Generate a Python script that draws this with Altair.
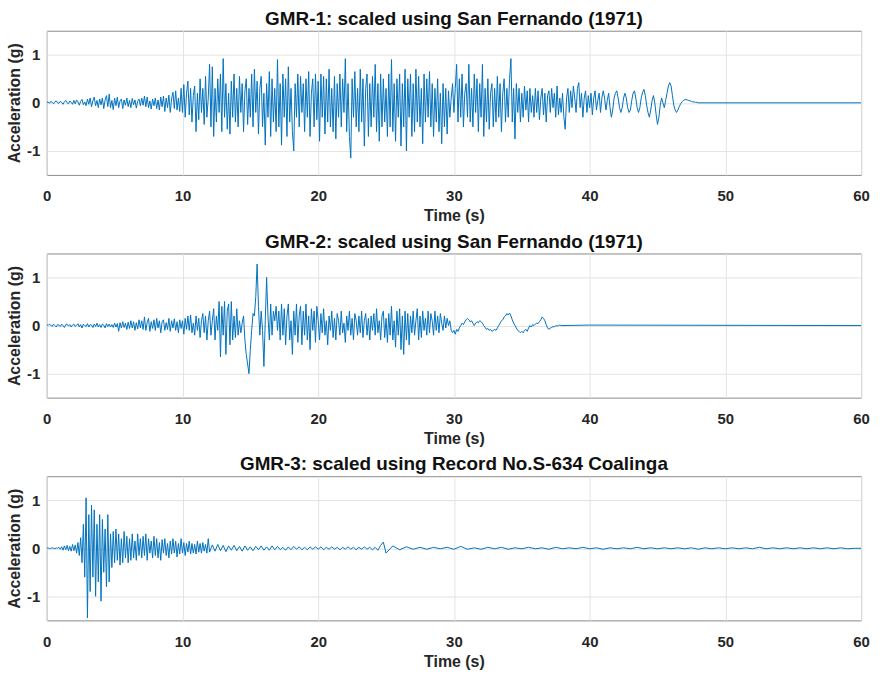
import altair as alt
import pandas as pd

FONT = "Liberation Sans"
LINE_COLOR = "#0072BD"

titles = [
    "GMR-1: scaled using San Fernando (1971)",
    "GMR-2:  scaled using San Fernando (1971)",
    "GMR-3:  scaled using Record No.S-634 Coalinga",
]
x_ticks = [0, 10, 20, 30, 40, 50, 60]
y_ticks = [-1, 0, 1]

# GMR-1: one row per second, samples every 0.1 s, from 0 s
gmr1_rows = [
    [0.0, 0.02, -0.01, 0.03, 0.01, -0.02, 0.02, 0.04, 0.0, -0.01],
    [0.03, 0.01, -0.03, 0.02, 0.05, 0.0, -0.02, 0.04, 0.01, -0.03],
    [0.05, -0.02, 0.06, 0.02, -0.05, 0.03, 0.07, -0.04, 0.02, -0.06],
    [0.08, -0.03, 0.1, -0.08, 0.04, 0.12, -0.06, 0.05, -0.1, 0.08],
    [-0.04, 0.1, -0.12, 0.06, 0.15, -0.08, 0.18, -0.1, 0.05, -0.14],
    [0.1, -0.06, 0.12, -0.1, 0.04, 0.08, -0.12, 0.06, -0.05, 0.1],
    [-0.08, 0.05, -0.1, 0.09, -0.04, 0.06, -0.11, 0.03, 0.08, -0.06],
    [0.1, -0.05, 0.14, -0.08, 0.12, -0.1, 0.04, -0.13, 0.08, -0.06],
    [0.1, -0.12, 0.06, -0.15, 0.12, -0.08, 0.14, -0.18, 0.1, -0.1],
    [0.16, -0.2, 0.08, 0.22, -0.12, 0.25, -0.15, 0.1, -0.18, 0.3],
    [-0.2, 0.38, -0.3, 0.2, 0.45, -0.25, 0.3, -0.4, 0.15, 0.35],
    [-0.6, 0.2, -0.35, 0.5, -0.2, 0.3, -0.45, 0.55, -0.3, 0.1],
    [0.8, -0.5, 0.75, -0.7, 0.3, -0.4, 0.5, -0.2, 0.6, -0.6],
    [0.92, -0.3, 0.4, -0.55, 0.2, -0.65, 0.45, -0.3, 0.6, -0.4],
    [0.3, -0.5, 0.55, -0.2, 0.4, -0.6, 0.25, 0.5, -0.45, 0.3],
    [-0.3, 0.6, -0.5, 0.7, -0.2, 0.45, -0.65, 0.3, 0.55, -0.5],
    [0.2, -0.88, 0.4, -0.3, 0.65, -0.7, 0.5, -0.4, 0.3, -0.6],
    [0.9, -0.5, 0.4, -0.88, 0.6, -0.3, 0.5, -0.7, 0.75, -0.4],
    [0.3, -0.6, -1.0, 0.4, -0.3, 0.6, -0.5, 0.55, -0.2, 0.4],
    [-0.6, 0.5, -0.3, 0.65, -0.7, 0.2, 0.5, -0.5, 0.6, -0.35],
    [0.45, -0.8, 0.6, -0.3, 0.55, -0.65, 0.5, -0.4, 0.7, -0.5],
    [0.3, -0.6, 0.55, -0.75, 0.4, -0.3, 0.6, -0.5, 0.5, -0.2],
    [0.92, -0.6, 0.4, -0.7, -1.15, 0.5, -0.3, 0.65, -0.5, 0.3],
    [-0.6, 0.7, -0.4, 0.5, -0.9, 0.3, 0.6, -0.7, 0.4, -0.5],
    [0.55, -0.3, 0.8, -0.6, 0.4, -0.8, 0.6, -0.5, 0.5, -0.4],
    [0.3, -0.7, 0.6, -0.5, 0.9, -0.6, 0.4, -0.8, 0.5, -0.3],
    [0.6, -0.9, 0.4, -0.5, 0.7, -1.0, 0.5, -0.3, 0.6, -0.7],
    [0.4, -0.6, 0.7, -0.4, 0.55, -0.5, 0.3, -0.85, 0.6, -0.4],
    [0.5, -0.3, 0.65, -0.5, 0.4, -0.7, 0.3, -0.4, 0.5, -0.6],
    [0.2, -0.85, 0.4, -0.5, 0.3, -0.65, 0.25, -0.3, 0.1, 0.4],
    [-0.2, 0.3, 0.8, -0.4, 0.5, -0.3, 0.6, -0.5, 0.2, 0.4],
    [-0.3, 0.8, -0.4, 0.3, -0.5, 0.6, -0.2, 0.5, -0.6, 0.4],
    [-0.3, 0.8, -0.7, 0.3, -0.4, 0.5, -0.55, 0.2, 0.4, -0.5],
    [0.3, -0.4, 0.55, -0.3, 0.4, -0.6, 0.2, 0.5, -0.4, 0.3],
    [-0.3, 0.5, 0.92, -0.4, 0.3, -0.75, 0.4, -0.2, 0.3, -0.4],
    [0.2, -0.3, 0.35, -0.15, 0.25, -0.4, 0.3, -0.2, 0.15, -0.3],
    [0.3, -0.2, 0.25, -0.35, 0.1, 0.3, -0.25, 0.2, -0.4, 0.15],
    [0.25, -0.2, 0.3, -0.1, 0.2, -0.3, 0.35, -0.25, 0.1, -0.2],
    [0.2, -0.3, -0.55, 0.1, 0.3, -0.2, 0.25, -0.1, 0.35, 0.1],
    [-0.2, 0.3, 0.42, -0.1, 0.2, -0.3, 0.1, 0.25, -0.2, 0.15],
    [-0.1, 0.2, -0.25, 0.1, 0.25, -0.15, 0.05, 0.2, -0.2, 0.1],
    [0.25, 0.1, -0.15, 0.05, 0.2, -0.1, -0.3, -0.15, 0.1, 0.2],
    [0.25, 0.1, -0.1, -0.2, -0.1, 0.1, 0.2, 0.1, -0.1, -0.2],
    [-0.15, 0.05, 0.2, 0.25, 0.1, -0.1, -0.2, -0.1, 0.1, 0.22],
    [0.28, 0.15, -0.05, -0.2, -0.3, -0.15, 0.05, 0.15, 0.0, -0.25],
    [-0.45, -0.3, -0.05, 0.1, 0.0, -0.1, 0.05, 0.2, 0.35, 0.42],
    [0.35, 0.15, -0.05, -0.15, -0.2, -0.15, -0.08, -0.02, 0.02, 0.05],
    [0.06, 0.07, 0.06, 0.05, 0.04, 0.03, 0.02, 0.02, 0.01, 0.01],
]
gmr1_tail_t = [48.0, 60.0]
gmr1_tail_a = [0.0, 0.0]

# GMR-2: one row per second, samples every 0.1 s, from 0 s
gmr2_rows = [
    [0.02, 0.0, 0.03, 0.01, -0.02, 0.03, 0.0, -0.03, 0.02, 0.01],
    [-0.02, 0.03, 0.0, -0.04, 0.02, 0.03, -0.01, 0.02, -0.03, 0.01],
    [0.03, -0.02, 0.01, 0.04, -0.03, 0.02, -0.05, 0.03, 0.0, -0.02],
    [0.04, -0.03, 0.02, 0.01, -0.04, 0.03, -0.02, 0.05, -0.03, 0.02],
    [-0.04, 0.03, 0.01, -0.05, 0.04, -0.02, 0.03, -0.03, 0.02, -0.04],
    [0.05, -0.03, 0.04, -0.12, 0.06, -0.05, 0.08, -0.04, 0.05, -0.08],
    [0.07, -0.06, 0.1, -0.05, 0.08, -0.1, 0.06, -0.07, 0.12, -0.05],
    [0.1, -0.08, 0.18, -0.1, 0.06, 0.15, -0.12, 0.08, -0.06, 0.12],
    [-0.1, 0.15, -0.05, 0.1, -0.15, 0.08, 0.12, -0.1, 0.06, -0.08],
    [0.15, -0.12, 0.1, -0.05, 0.14, -0.1, 0.08, -0.15, 0.12, -0.06],
    [0.1, -0.18, 0.15, -0.08, 0.2, -0.1, 0.22, -0.15, 0.05, -0.2],
    [0.2, -0.1, 0.15, -0.25, 0.1, 0.25, -0.15, 0.2, -0.3, 0.1],
    [0.3, -0.2, 0.1, 0.35, -0.3, 0.2, -0.1, 0.5, -0.65, 0.4],
    [-0.2, 0.5, -0.6, 0.3, 0.45, -0.4, 0.5, -0.3, 0.2, -0.25],
    [0.35, -0.2, 0.1, -0.15, 0.05, 0.2, -0.3, -0.6, -0.8, -1.0],
    [-0.5, -0.1, 0.25, 0.2, 0.6, 1.28, 0.4, -0.2, 0.3, -0.1],
    [-0.85, 0.1, 1.0, 0.2, -0.3, 0.45, -0.2, 0.3, 0.1, 0.4],
    [-0.1, 0.3, -0.3, 0.45, -0.2, 0.35, -0.4, 0.2, 0.45, -0.3],
    [0.1, -0.6, 0.3, -0.2, 0.45, -0.35, 0.2, 0.4, -0.4, 0.3],
    [-0.2, 0.45, -0.3, 0.2, -0.5, 0.35, -0.1, 0.3, -0.35, 0.4],
    [0.1, -0.3, 0.25, -0.15, 0.35, -0.2, 0.1, -0.4, 0.2, -0.1],
    [0.3, -0.25, 0.15, -0.3, 0.25, 0.1, -0.2, 0.3, -0.15, 0.05],
    [-0.35, 0.2, -0.1, 0.3, -0.2, 0.15, -0.3, 0.25, 0.1, -0.2],
    [0.2, -0.15, 0.3, -0.25, 0.1, 0.25, -0.2, 0.15, -0.3, 0.2],
    [-0.1, 0.25, -0.2, 0.35, -0.15, 0.1, -0.3, 0.2, 0.3, -0.25],
    [0.15, -0.35, 0.25, -0.2, 0.4, -0.3, 0.1, -0.45, 0.3, -0.2],
    [0.35, -0.5, 0.2, -0.6, 0.3, -0.3, 0.25, -0.4, 0.2, -0.15],
    [0.3, -0.2, 0.1, 0.35, -0.3, 0.2, -0.25, 0.3, -0.1, 0.15],
    [-0.2, 0.3, -0.15, 0.25, 0.1, -0.2, 0.3, -0.1, 0.2, -0.15],
    [0.25, 0.05, -0.1, 0.2, -0.05, 0.15, 0.0, 0.1, -0.1, -0.15],
    [-0.1, -0.18, -0.08, -0.12, -0.05, 0.0, 0.05, 0.02, 0.08, 0.12],
    [0.15, 0.12, 0.08, 0.1, 0.05, 0.0, 0.05, 0.08, 0.06, 0.1],
    [0.08, 0.05, 0.0, -0.04, -0.08, -0.06, -0.1, -0.08, -0.12, -0.1],
    [-0.08, -0.1, -0.05, 0.0, 0.05, 0.1, 0.12, 0.18, 0.2, 0.25],
    [0.22, 0.26, 0.2, 0.12, 0.05, 0.0, -0.05, -0.1, -0.12, -0.15],
    [-0.12, -0.15, -0.1, -0.08, -0.12, -0.05, 0.0, -0.03, 0.02, 0.0],
    [0.03, 0.05, 0.04, 0.08, 0.12, 0.18, 0.15, 0.1, 0.02, -0.05],
    [-0.08, -0.05, -0.04, -0.02, -0.03, 0.0, -0.01, 0.0, 0.01, 0.0],
]
gmr2_tail_t = [40.0, 60.0]
gmr2_tail_a = [0.01, 0.0]

# GMR-3 early part: one row per second, samples every 0.1 s, from 0 s
gmr3_early_rows = [
    [0.0, 0.01, -0.01, 0.0, 0.01, 0.0, -0.01, 0.01, 0.0, 0.02],
    [-0.02, 0.03, -0.04, 0.05, -0.03, 0.06, -0.05, 0.04, -0.06, 0.08],
    [-0.05, 0.07, -0.1, 0.12, -0.15, 0.22, -0.3, 0.5, -0.6, 1.05],
    [-1.45, 0.7, -0.9, 0.9, -0.6, 0.8, -1.0, 0.5, -0.7, 0.7],
    [-1.1, 0.6, -0.5, 0.4, -0.8, 0.7, -0.7, 0.3, -0.4, 0.35],
    [-0.3, 0.4, -0.25, 0.3, -0.35, 0.2, -0.3, 0.35, -0.2, 0.25],
    [-0.3, 0.2, -0.25, 0.3, -0.2, 0.15, -0.25, 0.3, -0.15, 0.2],
    [-0.2, 0.25, -0.15, 0.3, -0.25, 0.2, -0.1, 0.15, -0.2, 0.25],
    [-0.15, 0.2, -0.2, 0.12, -0.25, 0.18, -0.1, 0.2, -0.15, 0.1],
    [-0.2, 0.15, -0.12, 0.2, -0.1, 0.15, -0.18, 0.1, -0.12, 0.2],
    [-0.1, 0.12, -0.15, 0.1, -0.08, 0.15, -0.12, 0.1, -0.1, 0.08],
    [-0.12, 0.15, -0.08, 0.1, -0.1, 0.12, -0.06, 0.08, -0.1, 0.2],
]
# GMR-3 middle part: rows of 2 s, samples every 0.2 s, from 12 s
gmr3_mid_rows = [
    [-0.08, 0.07, -0.06, 0.08, -0.05, 0.06, -0.07, 0.05, -0.04, 0.06],
    [-0.05, 0.04, -0.06, 0.05, -0.04, 0.03, -0.05, 0.04, -0.03, 0.05],
    [-0.04, 0.03, -0.04, 0.05, -0.03, 0.04, -0.03, 0.02, -0.04, 0.03],
    [-0.03, 0.04, -0.02, 0.03, -0.03, 0.02, -0.03, 0.03, -0.02, 0.03],
    [-0.02, 0.03, -0.03, 0.02, -0.02, 0.03, -0.02, 0.02, -0.03, 0.02],
    [-0.02, 0.03, -0.02, 0.02, -0.03, 0.02, -0.02, 0.03, -0.02, 0.02],
    [-0.03, 0.02, -0.04, 0.06, 0.13, -0.1],
]
# GMR-3 late part: rows of 5 s, samples every 0.5 s, from 25.5 s
gmr3_late_rows = [
    [0.05, -0.03, 0.03, -0.02, 0.02, -0.02, 0.02, -0.01, 0.02, -0.02],
    [0.04, -0.02, 0.01, -0.02, 0.02, -0.01, 0.02, -0.02, 0.01, -0.01],
    [0.02, -0.01, 0.01, -0.02, 0.02, -0.01, 0.01, -0.01, 0.02, -0.01],
    [0.01, -0.02, 0.01, -0.01, 0.01, -0.01, 0.02, -0.01, 0.01, -0.01],
    [0.01, -0.01, 0.01, -0.01, 0.01, -0.02, 0.01, -0.01, 0.01, -0.01],
    [0.01, -0.01, 0.01, -0.01, 0.02, -0.01, 0.01, -0.01, 0.01, -0.01],
    [0.01, -0.01, 0.01, -0.01, 0.01, -0.01, 0.01, -0.01, 0.0, 0.0],
]


def rows_to_points(rows, t0, row_span, dt):
    ts, vs = [], []
    for k, row in enumerate(rows):
        for j, v in enumerate(row):
            ts.append(round(t0 + k * row_span + j * dt, 3))
            vs.append(v)
    return ts, vs


def frame(parts):
    ts, vs = [], []
    for t, v in parts:
        ts += t
        vs += v
    return pd.DataFrame({"t": ts, "a": vs}).sort_values("t")


df1 = frame([rows_to_points(gmr1_rows, 0.0, 1.0, 0.1), (gmr1_tail_t, gmr1_tail_a)])
df2 = frame([rows_to_points(gmr2_rows, 0.0, 1.0, 0.1), (gmr2_tail_t, gmr2_tail_a)])
df3 = frame([
    rows_to_points(gmr3_early_rows, 0.0, 1.0, 0.1),
    rows_to_points(gmr3_mid_rows, 12.0, 2.0, 0.2),
    rows_to_points(gmr3_late_rows, 25.5, 5.0, 0.5),
])


def panel(df, title):
    return (
        alt.Chart(df)
        .mark_line(color=LINE_COLOR, strokeWidth=1, clip=True)
        .encode(
            x=alt.X(
                "t:Q",
                scale=alt.Scale(domain=[0, 60], nice=False, zero=False),
                axis=alt.Axis(values=x_ticks, title="Time (s)"),
            ),
            y=alt.Y(
                "a:Q",
                scale=alt.Scale(domain=[-1.5, 1.5], nice=False),
                axis=alt.Axis(values=y_ticks, title="Acceleration (g)",
                              labelExpr="datum.value + ''"),
            ),
        )
        .properties(width=819, height=145, title=title)
    )


chart = (
    alt.vconcat(*[panel(d, t) for d, t in zip([df1, df2, df3], titles)], spacing=7)
    .properties(padding={"left": 6, "top": 7, "right": 10, "bottom": 2}, background="white")
    .configure_view(stroke="#8a8a8a", strokeWidth=1)
    .configure_axis(
        grid=True,
        gridColor="#e3e3e3",
        gridWidth=1,
        domain=False,
        ticks=False,
        tickSize=0,
        labelFlush=False,
        labelOverlap=False,
        labelFont=FONT,
        labelFontSize=15,
        labelFontWeight="bold",
        labelColor="#262626",
        titleFont=FONT,
        titleFontSize=16,
        titleFontWeight="bold",
        titleColor="#262626",
    )
    .configure_axisX(labelPadding=14, titlePadding=4)
    .configure_axisY(labelPadding=7, titlePadding=4)
    .configure_title(font=FONT, fontSize=19, fontWeight="bold", color="#111111", offset=2, anchor="middle")
)

chart.save("out.html", embed_options={"renderer": "svg", "actions": False})
